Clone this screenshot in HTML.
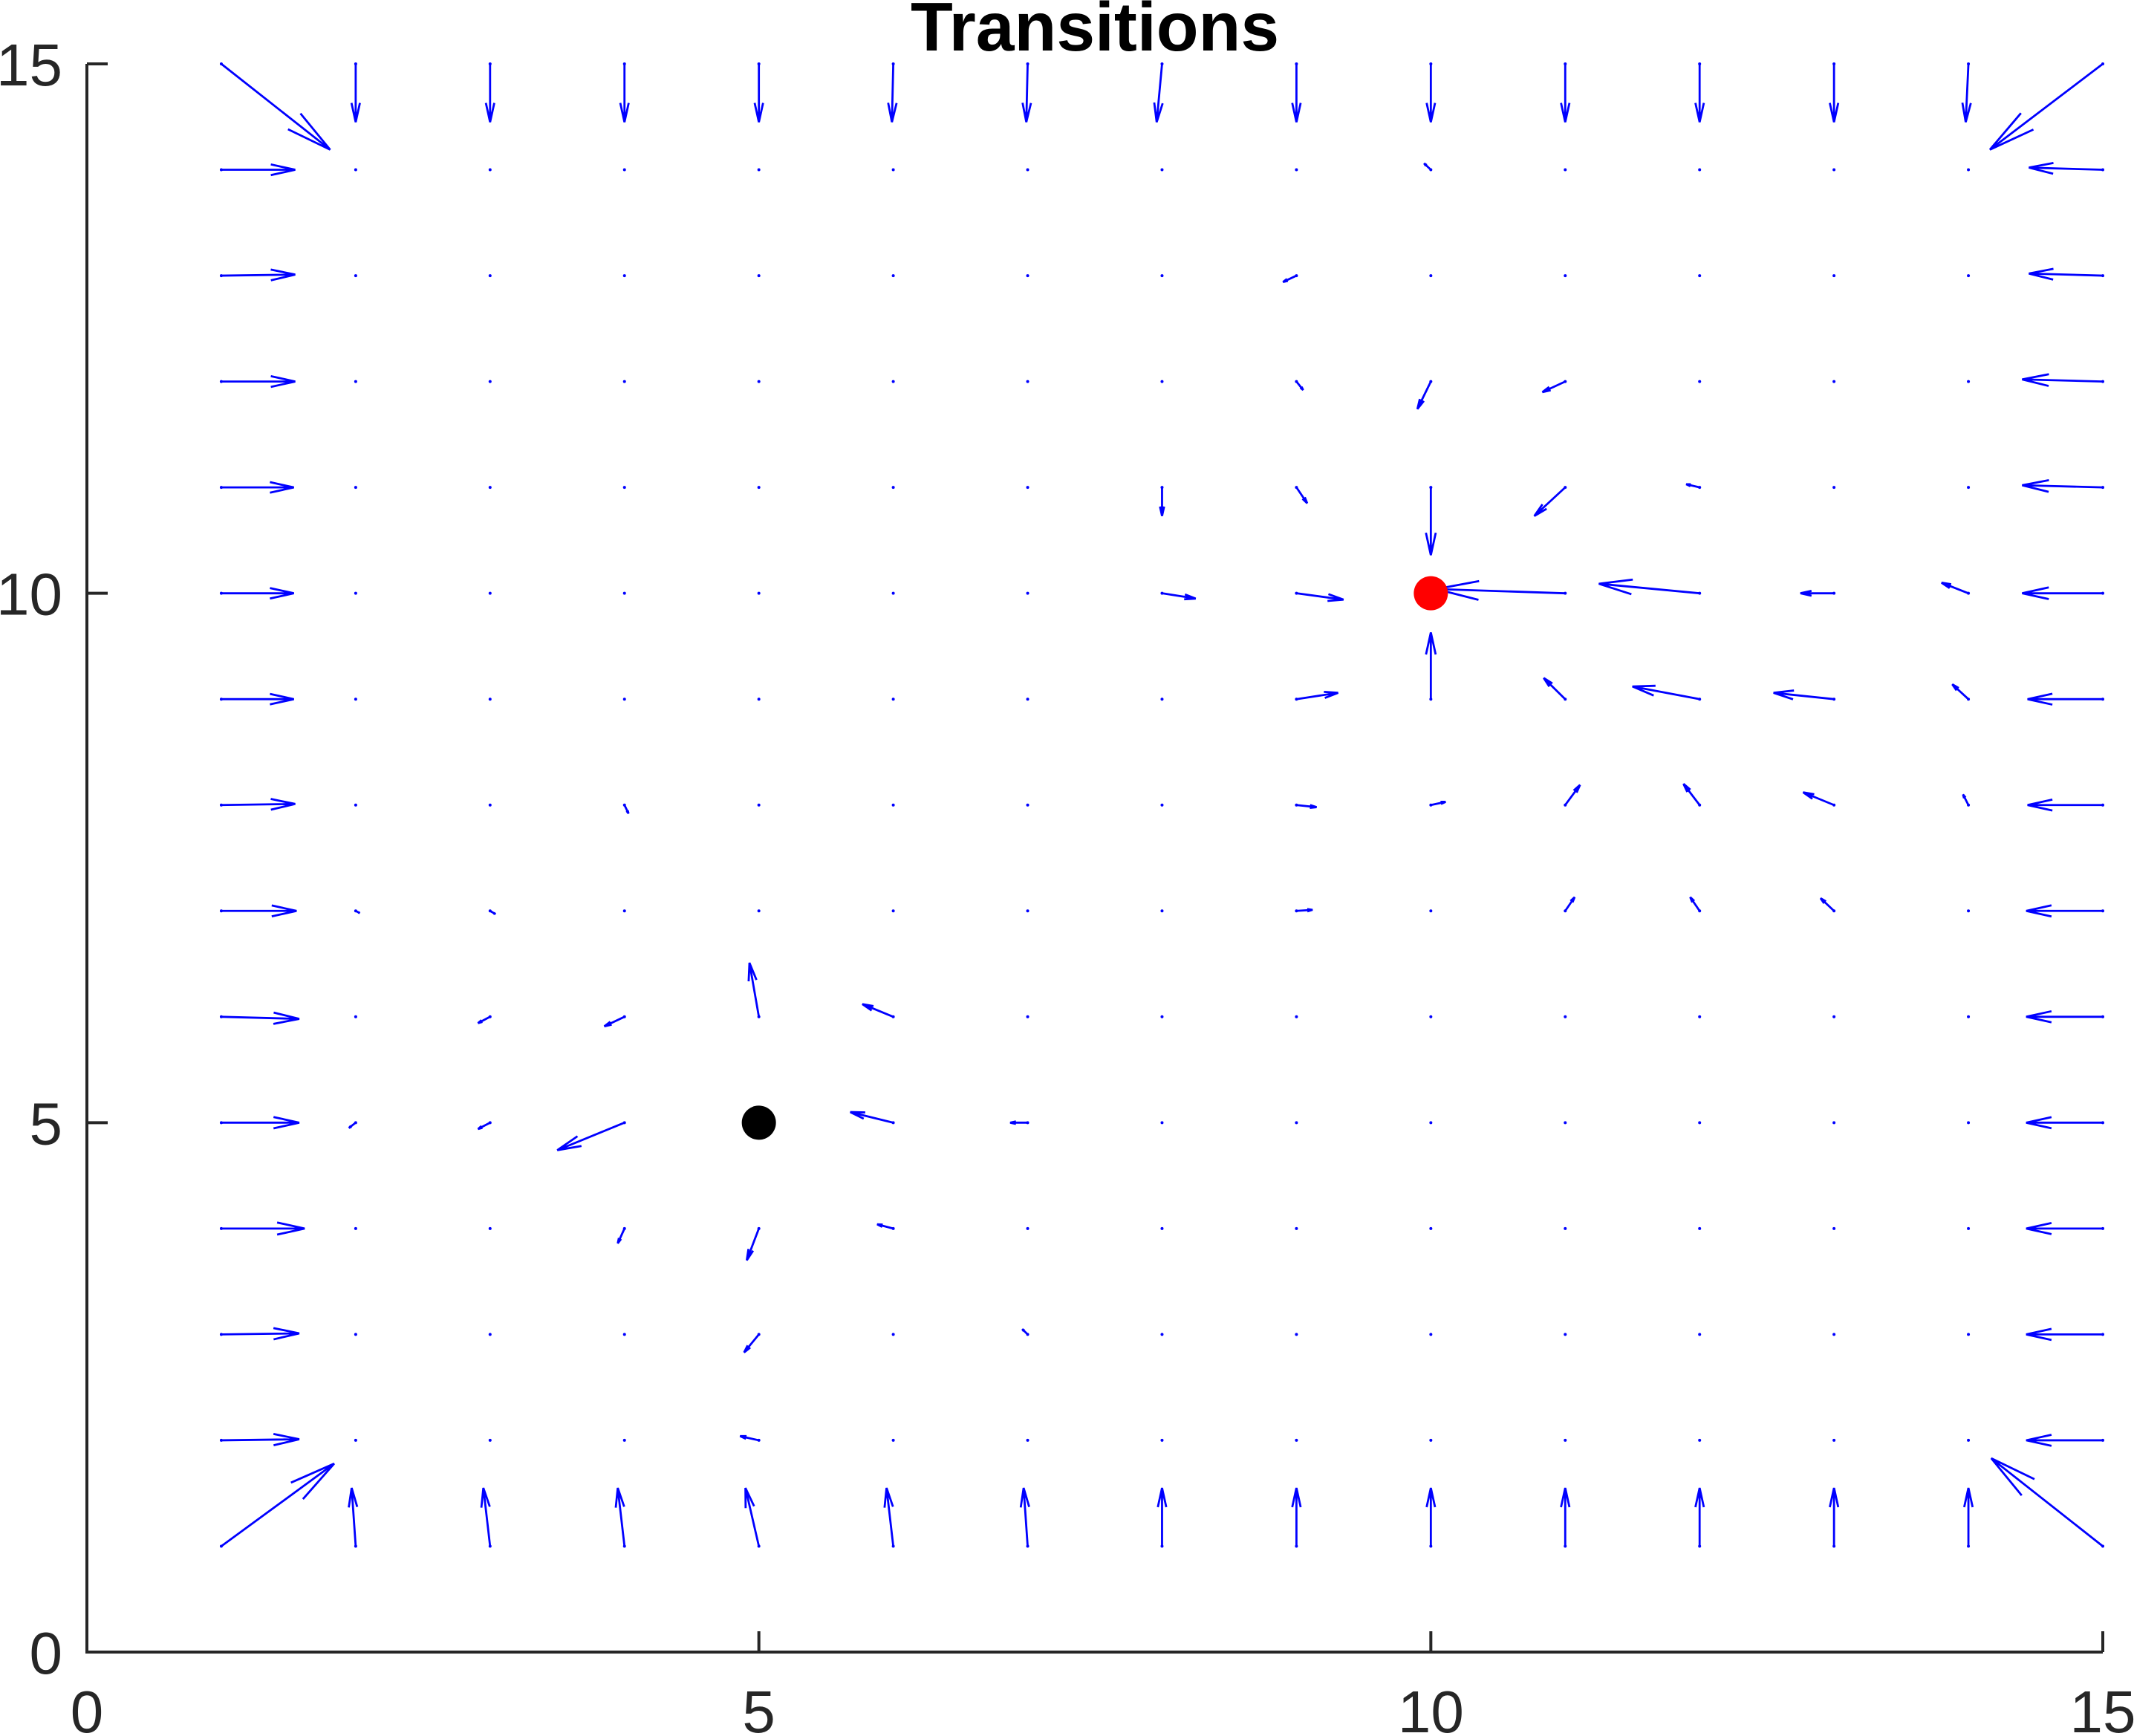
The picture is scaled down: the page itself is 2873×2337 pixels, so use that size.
<!DOCTYPE html>
<html><head><meta charset="utf-8"><style>
html,body{margin:0;padding:0;background:#fff;}
svg{display:block;font-family:"Liberation Sans",Arial,sans-serif;}
</style></head><body>
<svg id="chart" width="2873" height="2337" viewBox="0 0 2873 2337">
<rect width="2873" height="2337" fill="#fff"/>
<text x="1474" y="68" font-size="93" font-weight="bold" text-anchor="middle">Transitions</text>
<g id="axes"></g>
<g id="arrows"></g>
<g id="points"></g>
</svg>
<script>
const xTicks=[0,5,10,15];
const yTicks=[0,5,10,15];
// sparse arrow vectors (data units)
const arrowX=[1,2,3,4,5,6,7,8,9,10,11,12,13,14,15,
 1,2,3,4,5,6,7,8,9,10,11,12,13,14,15,
 1,1,1,1,1,1,1,1,1,1,1,1,1,
 15,15,15,15,15,15,15,15,15,15,15,15,15,
 11,12,13,14,10,10,9,8,11,10,11,9,9,8,12,
 11,12,13,14,9,11,12,13,14,11,12,13,
 5,6,4,3,4,6,7,5,5,4,6,5,3,2,9,10,9,10,9,4,3,2,7];
const arrowY=[15,15,15,15,15,15,15,15,15,15,15,15,15,15,15,
 1,1,1,1,1,1,1,1,1,1,1,1,1,1,1,
 2,3,4,5,6,7,8,9,10,11,12,13,14,
 2,3,4,5,6,7,8,9,10,11,12,13,14,
 10,10,10,10,11,9,10,10,11,12,12,12,11,11,11,
 9,9,9,9,9,8,8,8,8,7,7,7,
 6,6,6,6,5,5,5,4,3,4,4,2,5,5,13,14,8,8,7,8,7,7,3];
const arrowU=[0.81,0,0,0,0,-0.01,-0.01,-0.04,0,0,0,0,0,-0.02,-0.84,
 0.84,-0.03,-0.05,-0.05,-0.1,-0.05,-0.03,0,0,0,0,0,0,0,-0.83,
 0.58,0.58,0.62,0.58,0.58,0.56,0.55,0.54,0.54,0.54,0.55,0.55,0.55,
 -0.57,-0.57,-0.57,-0.57,-0.57,-0.57,-0.56,-0.56,-0.6,-0.6,-0.6,-0.55,-0.55,
 -0.96,-0.75,-0.25,-0.2,0,0,0.35,0.25,-0.23,-0.1,-0.17,0.05,0.08,0,-0.1,
 -0.16,-0.5,-0.45,-0.12,0.31,0.11,-0.12,-0.23,-0.04,0.07,-0.07,-0.1,
 -0.07,-0.23,-0.15,-0.09,-0.5,-0.32,-0.13,-0.09,-0.11,-0.05,-0.12,-0.14,-0.09,-0.05,-0.1,-0.05,0.15,0.11,0.12,0.03,0.04,0.03,-0.04];
const arrowV=[-0.81,-0.55,-0.55,-0.55,-0.55,-0.55,-0.55,-0.55,-0.55,-0.55,-0.55,-0.55,-0.55,-0.55,-0.81,
 0.78,0.55,0.55,0.55,0.55,0.55,0.55,0.55,0.55,0.55,0.55,0.55,0.55,0.55,0.83,
 0.01,0.01,0,0,-0.02,0,0.01,0,0,0,0,0.01,0,
 0,0,0,0,0,0,0,0,0,0.02,0.02,0.02,0.02,
 0.04,0.09,0,0.1,-0.64,0.63,-0.06,-0.05,-0.27,-0.26,-0.1,-0.08,-0.15,-0.27,0.03,
 0.2,0.12,0.06,0.14,0.06,0.19,0.2,0.12,0.1,0.13,0.13,0.12,
 0.51,0.12,-0.09,-0.06,-0.26,0.1,0,-0.3,-0.17,-0.14,0.04,0.04,-0.06,-0.05,-0.06,0.06,-0.02,0.03,0.01,-0.08,-0.03,-0.02,0.05];
const markerX=[5,10];
const markerY=[5,10];
const markerC=["#000","#f00"];

const NS="http://www.w3.org/2000/svg";
const X0=117,X1=2831,Y0=2224,Y1=86;
const sx=v=>X0+(v-0)*(X1-X0)/15;
const sy=v=>Y0-(v-0)*(Y0-Y1)/15;
function mk(t,a,p){const e=document.createElementNS(NS,t);for(const k in a)e.setAttribute(k,a[k]);p.appendChild(e);return e;}
const ax=document.getElementById('axes');
let l=mk('path',{d:`M${X0},${Y1} L${X0},${Y0} L${X1},${Y0}`,fill:'none',stroke:'#262626','stroke-width':4},ax);


xTicks.forEach(t=>{
 const x=sx(t);
 const tk=mk('line',{x1:x,y1:Y0,x2:x,y2:Y0-28,stroke:'#262626','stroke-width':4},ax);
 
 
 const tx=mk('text',{x:x,y:2332,'font-size':80,'text-anchor':'middle',fill:'#262626'},ax);
 tx.textContent=t;
 
 
});
yTicks.forEach(t=>{
 const y=sy(t);
 const tk=mk('line',{x1:X0,y1:y,x2:X0+28,y2:y,stroke:'#262626','stroke-width':4},ax);
 
 
 const tx=mk('text',{x:84,y:y+29,'font-size':80,'text-anchor':'end',fill:'#262626'},ax);
 tx.textContent=t;
 
 
});
const ar=document.getElementById('arrows');
for(let gx=1;gx<=15;gx++)for(let gy=1;gy<=15;gy++){
 const d=mk('circle',{cx:sx(gx),cy:sy(gy),r:2,fill:'#00f'},ar);
 
 
}
arrowX.forEach((x,i)=>{
 const u=arrowU[i],v=arrowV[i];
 const x0=sx(x),y0=sy(arrowY[i]),x1=sx(x+u),y1=sy(arrowY[i]+v);
 const dx=x1-x0,dy=y1-y0;
 const a=0.33,b=0.22;
 const hx1=x1-a*(dx+b*(dy)),hy1=y1-a*(dy-b*(dx));
 const hx2=x1-a*(dx-b*(dy)),hy2=y1-a*(dy+b*(dx));
 const p=mk('path',{d:`M${x0},${y0} L${x1},${y1} M${hx1},${hy1} L${x1},${y1} L${hx2},${hy2}`,fill:'none',stroke:'#00f','stroke-width':2.8},ar);
 
 
});
const pt=document.getElementById('points');
markerX.forEach((x,i)=>{
 const c=mk('circle',{cx:sx(x),cy:sy(markerY[i]),r:23,fill:markerC[i]},pt);
 
 
});
</script>
</body></html>
